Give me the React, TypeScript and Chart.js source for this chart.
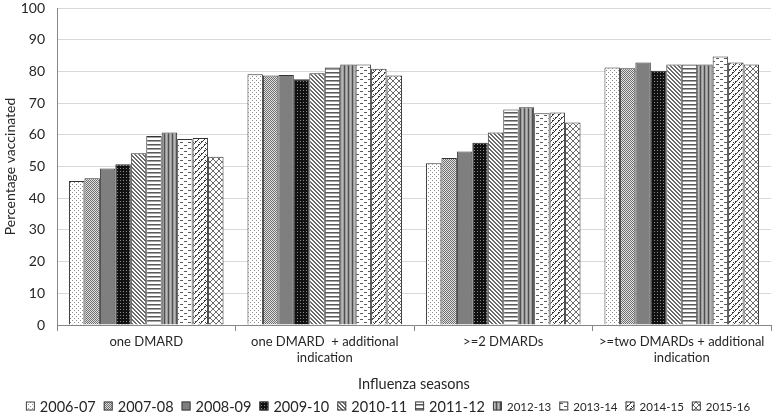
import { useEffect, useRef } from 'react';
import { Chart, registerables } from 'chart.js';

Chart.register(...registerables);

const groups = [
  'one DMARD',
  ['one DMARD  + additional', 'indication'],
  '>=2 DMARDs',
  ['>=two DMARDs + additional', 'indication'],
];
const seasons = ['2006-07', '2007-08', '2008-09', '2009-10', '2010-11', '2011-12', '2012-13', '2013-14', '2014-15', '2015-16'];

// one array per season, values per group (percent vaccinated)
const v0607 = [45.4, 79.1, 51.0, 81.2];
const v0708 = [46.3, 78.7, 52.7, 81.0];
const v0809 = [49.4, 78.9, 54.7, 82.8];
const v0910 = [50.7, 77.5, 57.5, 80.2];
const v1011 = [54.2, 79.4, 60.7, 82.2];
const v1112 = [59.6, 81.2, 68.0, 82.2];
const v1213 = [60.7, 82.2, 68.7, 82.2];
const v1314 = [58.7, 82.2, 66.8, 84.7];
const v1415 = [59.0, 80.8, 67.0, 82.8];
const v1516 = [53.1, 78.7, 63.9, 82.2];
const seasonValues = [v0607, v0708, v0809, v0910, v1011, v1112, v1213, v1314, v1415, v1516];

const yTicks = [0, 10, 20, 30, 40, 50, 60, 70, 80, 90, 100];

const FONT = 'Lato, "Liberation Sans", sans-serif';
const TEXT = '#262626';

// small tile painters, one per season
function tile(w: number, h: number, bg: string, draw: (c: CanvasRenderingContext2D) => void) {
  const cv = document.createElement('canvas');
  cv.width = w;
  cv.height = h;
  const c = cv.getContext('2d')!;
  c.fillStyle = bg;
  c.fillRect(0, 0, w, h);
  draw(c);
  return c.createPattern(cv, 'repeat')!;
}

function px(c: CanvasRenderingContext2D, color: string, pts: number[][]) {
  c.fillStyle = color;
  pts.forEach(([x, y]) => c.fillRect(x, y, 1, 1));
}

function makePatterns() {
  return [
    tile(4, 4, '#ffffff', (c) => px(c, '#8c8c8c', [[0, 0], [2, 2]])),
    tile(2, 2, '#e2e2e2', (c) => px(c, '#6e6e6e', [[0, 0], [1, 1]])),
    tile(1, 1, '#7f7f7f', () => {}),
    tile(3, 3, '#111111', (c) => px(c, '#8a8a8a', [[0, 0]])),
    tile(4, 4, '#ffffff', (c) => px(c, '#6a6a6a', [[0, 0], [1, 1], [2, 2], [3, 3], [1, 0], [2, 1], [3, 2], [0, 3]])),
    tile(1, 4, '#ffffff', (c) => { c.fillStyle = '#5a5a5a'; c.fillRect(0, 0, 1, 1); c.fillStyle = '#a5a5a5'; c.fillRect(0, 1, 1, 1); }),
    tile(4, 1, '#9a9a9a', (c) => { c.fillStyle = '#4e4e4e'; c.fillRect(0, 0, 1, 1); c.fillStyle = '#b8b8b8'; c.fillRect(2, 0, 1, 1); }),
    tile(8, 6, '#ffffff', (c) => { c.fillStyle = '#5c5c5c'; c.fillRect(0, 1, 3, 1); c.fillRect(4, 4, 3, 1); }),
    tile(6, 6, '#ffffff', (c) => px(c, '#3c3c3c', [[0, 0], [1, 0], [0, 1], [3, 3], [4, 3], [3, 4], [2, 5], [5, 2], [1, 4]])),
    tile(6, 6, '#ffffff', (c) => px(c, '#6a6a6a', [[0, 0], [1, 1], [2, 2], [3, 3], [4, 4], [5, 5], [5, 0], [4, 1], [3, 2], [2, 3], [1, 4], [0, 5]])),
  ];
}

const legendPlugin = {
  id: 'seasonLegend',
  afterDraw(chart: Chart) {
    const { ctx } = chart;
    const fills = chart.data.datasets.map((d) => d.backgroundColor as CanvasPattern);
    const items = seasons.map((s, i) => ({ text: s, size: i < 6 ? 14.5 : 11.5, fill: fills[i] }));
    const box = 9;
    const gap = 5;
    const spacing = 8;
    let total = 0;
    const widths = items.map((it) => {
      ctx.font = `${it.size}px ${FONT}`;
      const w = box + gap + ctx.measureText(it.text).width;
      total += w;
      return w;
    });
    total += spacing * (items.length - 1);
    let x = (chart.width - total) / 2;
    const y = 406;
    ctx.save();
    ctx.textBaseline = 'middle';
    items.forEach((it, i) => {
      ctx.fillStyle = it.fill;
      ctx.fillRect(x, y - box / 2, box, box);
      ctx.strokeStyle = '#404040';
      ctx.lineWidth = 1;
      ctx.strokeRect(x + 0.5, y - box / 2 + 0.5, box - 1, box - 1);
      ctx.font = `${it.size}px ${FONT}`;
      ctx.fillStyle = TEXT;
      ctx.fillText(it.text, x + box + gap, y + 1);
      x += widths[i] + spacing;
    });
    ctx.restore();
  },
};

export default function App() {
  const canvasRef = useRef<HTMLCanvasElement>(null);

  useEffect(() => {
    document.body.style.margin = '0';
    if (!canvasRef.current) return;
    const patterns = makePatterns();
    const chart = new Chart(canvasRef.current, {
      type: 'bar',
      data: {
        labels: groups,
        datasets: seasons.map((s, i) => ({
          label: s,
          data: seasonValues[i],
          backgroundColor: patterns[i],
          borderColor: '#333333',
          borderWidth: 1,
          barPercentage: 1,
          categoryPercentage: 0.866,
        })),
      },
      options: {
        animation: false,
        responsive: true,
        maintainAspectRatio: false,
        layout: { padding: { top: 0, right: 5, bottom: 24, left: 2 } },
        plugins: { legend: { display: false }, tooltip: { enabled: false } },
        scales: {
          x: {
            grid: { offset: true, drawOnChartArea: false, drawTicks: true, tickLength: 6, color: '#868686' },
            border: { color: '#868686' },
            ticks: { color: TEXT, font: { family: FONT, size: 13 }, maxRotation: 0, autoSkip: false, padding: 3 },
            title: { display: true, text: 'Influenza seasons', color: TEXT, font: { family: FONT, size: 14.5 }, padding: { top: 12, bottom: 0 } },
            afterFit: (axis) => { axis.height = 68; axis.paddingLeft = 0; axis.paddingRight = 0; },
          },
          y: {
            min: 0,
            max: 100,
            afterBuildTicks: (axis) => { axis.ticks = yTicks.map((v) => ({ value: v })); },
            grid: { color: '#d9d9d9', drawTicks: false },
            border: { color: '#868686' },
            ticks: { color: TEXT, font: { family: FONT, size: 14 }, padding: 12 },
            title: { display: true, text: 'Percentage vaccinated', color: TEXT, font: { family: FONT, size: 14 }, padding: { top: 0, bottom: 4 } },
            afterFit: (axis) => { axis.width = 55; axis.paddingTop = 8; axis.paddingBottom = 0; },
          },
        },
      },
      plugins: [legendPlugin],
    });
    return () => { chart.destroy(); };
  }, []);

  return (
    <div style={{ position: 'relative', width: 776, height: 417, background: '#fff' }}>
      <canvas ref={canvasRef} />
    </div>
  );
}
